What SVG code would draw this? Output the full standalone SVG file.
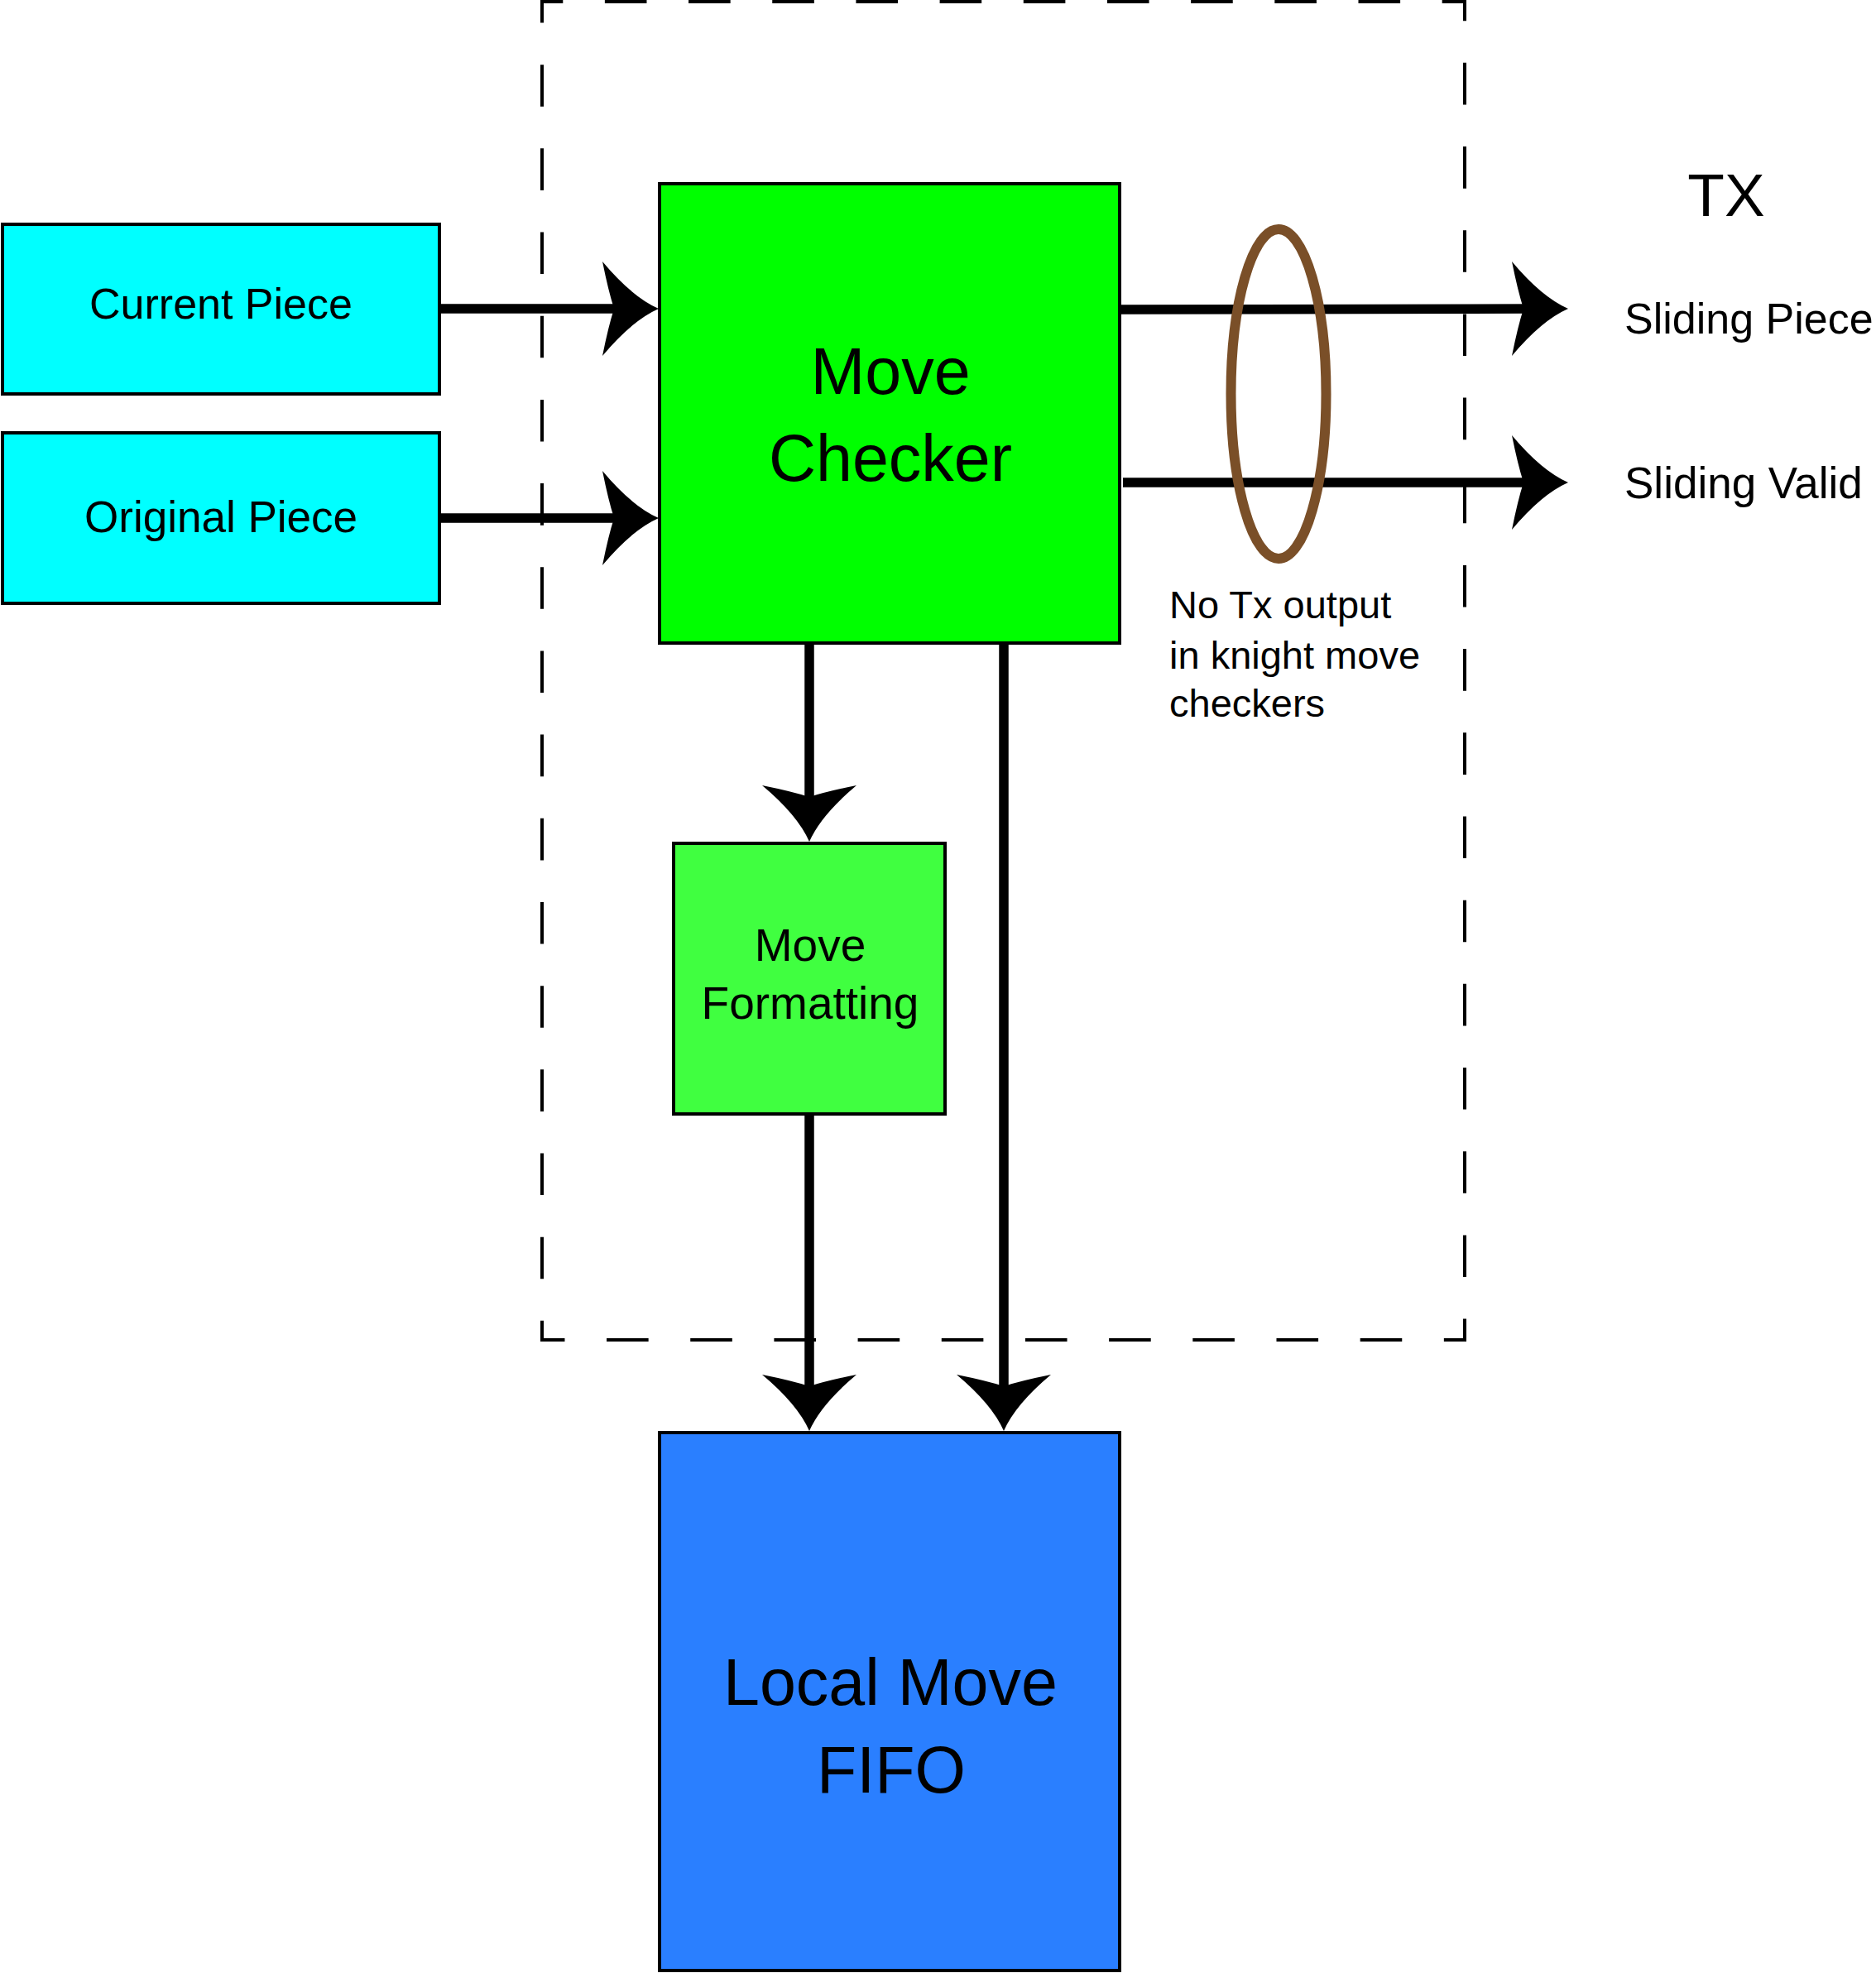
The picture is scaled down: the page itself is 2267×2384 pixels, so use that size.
<svg xmlns="http://www.w3.org/2000/svg" xmlns:xlink="http://www.w3.org/1999/xlink" width="2267" height="2384" viewBox="0 0 2267 2384">
  <style>
    .box { stroke: #000; stroke-width: 4; }
    .lbl { font-family: "Liberation Sans", Arial, sans-serif; fill: #000; }
    .mid { text-anchor: middle; }
    .wire { stroke: #000; stroke-width: 11.5; fill: none; }
    .dash { stroke: #000; stroke-width: 4; fill: none; stroke-dasharray: 50.59 50.59; stroke-dashoffset: 25.3; }
  </style>
  <defs>
    <path id="ah" d="M0,0 Q-32,-14 -68,-57 Q-61,-22 -54,0 Q-61,22 -68,57 Q-32,14 0,0 Z" fill="#000"/>
  </defs>
  <rect width="2267" height="2384" fill="#fff"/>

  <g id="boundary">
    <path class="dash" d="M655,2 H1770 V1619 H655 Z"/>
  </g>

  <g id="current-piece">
    <rect class="box" x="3" y="271" width="528" height="205" fill="#00ffff"/>
    <text class="lbl mid" x="267" y="385" font-size="52">Current Piece</text>
  </g>

  <g id="original-piece">
    <rect class="box" x="3" y="523" width="528" height="206" fill="#00ffff"/>
    <text class="lbl mid" x="267" y="643" font-size="53">Original Piece</text>
  </g>

  <g id="move-checker">
    <rect class="box" x="797" y="222" width="556" height="555" fill="#00ff00"/>
    <text class="lbl mid" x="1076" y="476" font-size="79">Move</text>
    <text class="lbl mid" x="1076" y="581" font-size="79">Checker</text>
  </g>

  <g id="move-formatting">
    <rect class="box" x="814" y="1019" width="328" height="327" fill="#40ff40"/>
    <text class="lbl mid" x="979" y="1161" font-size="55">Move</text>
    <text class="lbl mid" x="979" y="1231" font-size="55">Formatting</text>
  </g>

  <g id="local-move-fifo">
    <rect class="box" x="797" y="1731" width="556" height="650" fill="#2a7fff"/>
    <text class="lbl mid" x="1076" y="2060" font-size="79">Local Move</text>
    <text class="lbl mid" x="1077" y="2166" font-size="79">FIFO</text>
  </g>

  <g id="connectors">
    <line class="wire" x1="531" y1="373" x2="756" y2="373"/>
    <use xlink:href="#ah" href="#ah" transform="translate(796,373)"/>
    <line class="wire" x1="531" y1="626" x2="756" y2="626"/>
    <use xlink:href="#ah" href="#ah" transform="translate(796,626)"/>

    <line class="wire" x1="1353" y1="374" x2="1855" y2="373"/>
    <use xlink:href="#ah" href="#ah" transform="translate(1895,373)"/>
    <line class="wire" x1="1357" y1="583" x2="1855" y2="583"/>
    <use xlink:href="#ah" href="#ah" transform="translate(1895,583)"/>

    <line class="wire" x1="978" y1="777" x2="978" y2="977"/>
    <use xlink:href="#ah" href="#ah" transform="translate(978,1017) rotate(90)"/>
    <line class="wire" x1="978" y1="1346" x2="978" y2="1689"/>
    <use xlink:href="#ah" href="#ah" transform="translate(978,1729) rotate(90)"/>
    <line class="wire" x1="1213" y1="777" x2="1213" y2="1689"/>
    <use xlink:href="#ah" href="#ah" transform="translate(1213,1729) rotate(90)"/>
  </g>

  <g id="tx-group">
    <ellipse cx="1545" cy="476" rx="57.5" ry="199" fill="none" stroke="#7a4f28" stroke-width="12"/>
    <text class="lbl" x="1413" y="747" font-size="47">No Tx output</text>
    <text class="lbl" x="1413" y="808" font-size="47">in knight move</text>
    <text class="lbl" x="1413" y="866" font-size="47">checkers</text>
  </g>

  <g id="tx-outputs">
    <text class="lbl mid" x="2086" y="261" font-size="73">TX</text>
    <text class="lbl" x="1963" y="403" font-size="52">Sliding Piece</text>
    <text class="lbl" x="1963" y="602" font-size="53">Sliding Valid</text>
  </g>
</svg>
